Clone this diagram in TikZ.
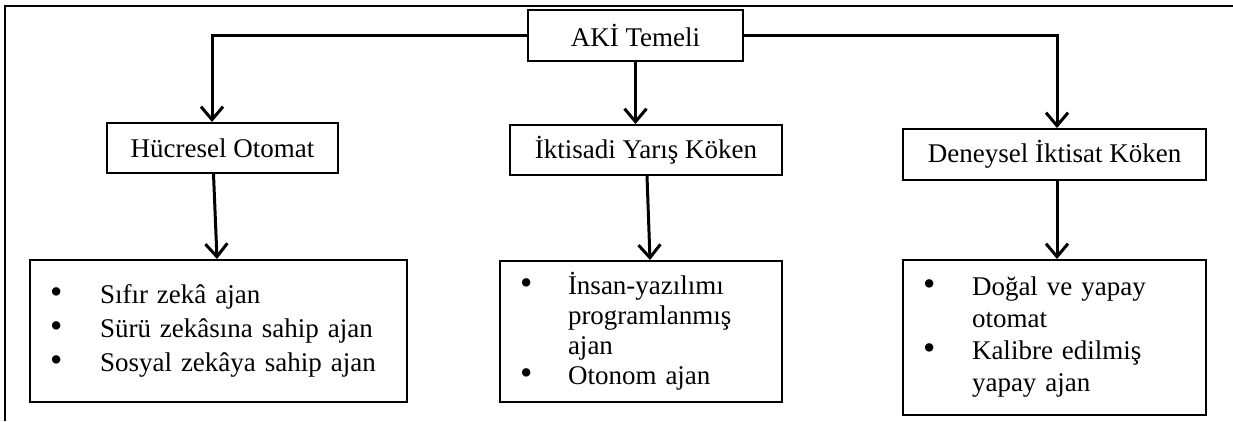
\documentclass[tikz,border=0pt]{standalone}
\usepackage{fontspec}
\setmainfont{Liberation Serif}
\usetikzlibrary{arrows.meta}
\tikzset{
  box/.style={draw=black, line width=2pt, fill=white, inner sep=0pt, font=\fontsize{27}{34}\selectfont},
  listbox/.style={draw=black, line width=2pt, fill=white, inner ysep=0pt, align=left, font=\fontsize{27}{34}\selectfont},
  conn/.style={draw=black, line width=3pt, -{Straight Barb[length=13pt,width=22pt,line width=3pt]}},
  frameline/.style={draw=black, line width=2.5pt}
}
\newcommand{\bul}[1]{\makebox[#1][l]{\smash{\scalebox{1.3}{\textbullet}}}}
\begin{document}
\begin{tikzpicture}[x=1pt,y=-1pt]
\useasboundingbox (0,0) rectangle (1233,421);
\fill[white] (0,0) rectangle (1233,421);
\draw[frameline] (5,421) -- (5,6) -- (1233,6);

\node[box, minimum width=215pt, minimum height=51pt] (aki) at (635.5,35.5) {AKİ Temeli};
\node[box, minimum width=231pt, minimum height=50pt] (huc) at (222.5,148) {Hücresel Otomat};
\node[box, minimum width=272pt, minimum height=50pt] (ikt) at (646,150) {İktisadi Yarış Köken};
\node[box, minimum width=303pt, minimum height=51pt] (den) at (1054.5,154.5) {Deneysel İktisat Köken};

\node[listbox, inner xsep=20pt, text width=337pt, minimum height=142pt] (L) at (218.5,331)
  {\bul{50pt}Sıfır zekâ ajan\\ \bul{50pt}Sürü zekâsına sahip ajan\\ \bul{50pt}Sosyal zekâya sahip ajan};
\node[listbox, inner xsep=20pt, text width=242pt, minimum height=141pt, font=\fontsize{27}{30}\selectfont] (M) at (641,331.5)
  {\bul{48pt}İnsan-yazılımı\\ \hspace*{48pt}programlanmış\\ \hspace*{48pt}ajan\\ \bul{48pt}Otonom ajan};
\node[listbox, inner xsep=20pt, text width=263pt, minimum height=155pt, font=\fontsize{27}{32}\selectfont] (R) at (1054.5,337.5)
  {\bul{49pt}Doğal ve yapay\\ \hspace*{49pt}otomat\\ \bul{49pt}Kalibre edilmiş\\ \hspace*{49pt}yapay ajan};

\draw[conn] (aki.west) -| ([xshift=-10.5pt]huc.north);
\draw[conn] (aki.south) -- (aki.south |- ikt.north);
\draw[conn] (aki.east) -| ([xshift=2.5pt]den.north);

\draw[conn] ([xshift=-9pt]huc.south) -- ([xshift=-1.5pt]L.north);
\draw[conn] ([xshift=1pt]ikt.south) -- ([xshift=9pt]M.north);
\draw[conn] ([xshift=2.5pt]den.south) -- ([xshift=2.5pt]R.north);
\end{tikzpicture}
\end{document}
